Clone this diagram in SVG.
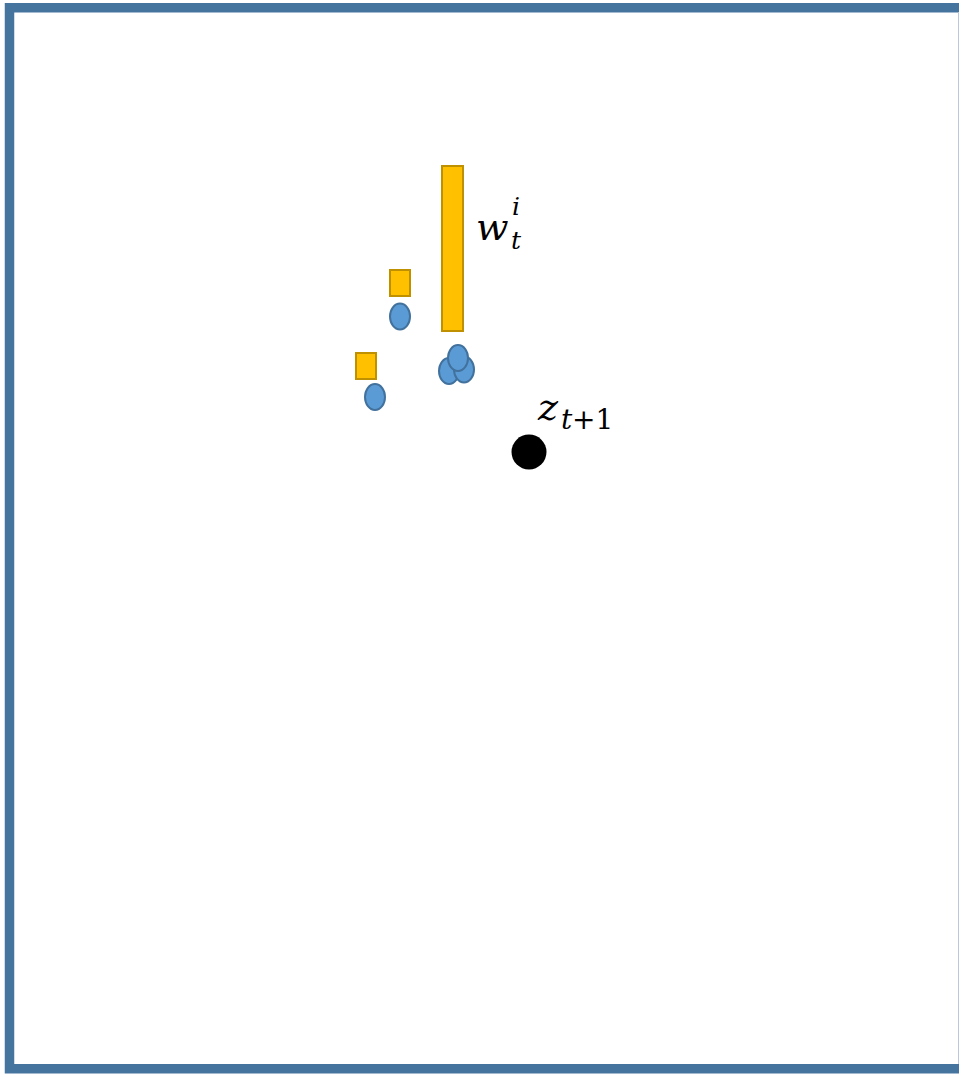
<svg xmlns="http://www.w3.org/2000/svg" width="959" height="1074" viewBox="0 0 959 1074">
<style>
.bar{fill:#ffc000;stroke:#bf9000;stroke-width:2}
.pt{fill:#5b9bd5;stroke:#41719c;stroke-width:2}
.m{font-family:"DejaVu Serif",serif;font-style:italic;fill:#000}
.r{font-family:"DejaVu Serif",serif;font-style:normal;fill:#000}
</style>
<rect id="frame" x="9.5" y="7.75" width="962" height="1061" fill="#fff" stroke="#41719c" stroke-width="9.5" stroke-opacity="0.98"/>
<line x1="958.5" y1="12" x2="958.5" y2="1064" stroke="#b9c9da" stroke-width="1"/>
<g id="weight-bar"><rect class="bar" x="442" y="166" width="21" height="165"/></g>
<g id="weight-small-1"><rect class="bar" x="390" y="270" width="20" height="26"/></g>
<g id="weight-small-2"><rect class="bar" x="356" y="353" width="20" height="26"/></g>
<g id="particle-1"><ellipse class="pt" cx="400" cy="316.5" rx="10" ry="13"/></g>
<g id="particle-2"><ellipse class="pt" cx="375" cy="397" rx="10" ry="13"/></g>
<g id="particle-cluster">
<ellipse class="pt" cx="449" cy="371" rx="10" ry="13"/>
<ellipse class="pt" cx="464" cy="369.5" rx="10" ry="13"/>
<ellipse class="pt" cx="458" cy="358" rx="10" ry="13"/>
</g>
<g id="observation"><circle cx="529" cy="452" r="17.5" fill="#000"/></g>
<g id="label-w">
<text class="m" x="476" y="240" font-size="38">w</text>
<text class="m" x="512" y="215" font-size="25">i</text>
<text class="m" x="511" y="249" font-size="25">t</text>
</g>
<g id="label-z">
<text class="m" x="538" y="420" font-size="38">z</text>
<text class="m" x="561" y="429" font-size="28">t</text>
<text class="r" x="572" y="429" font-size="28">+1</text>
</g>
<g id="connectors"/>
</svg>
